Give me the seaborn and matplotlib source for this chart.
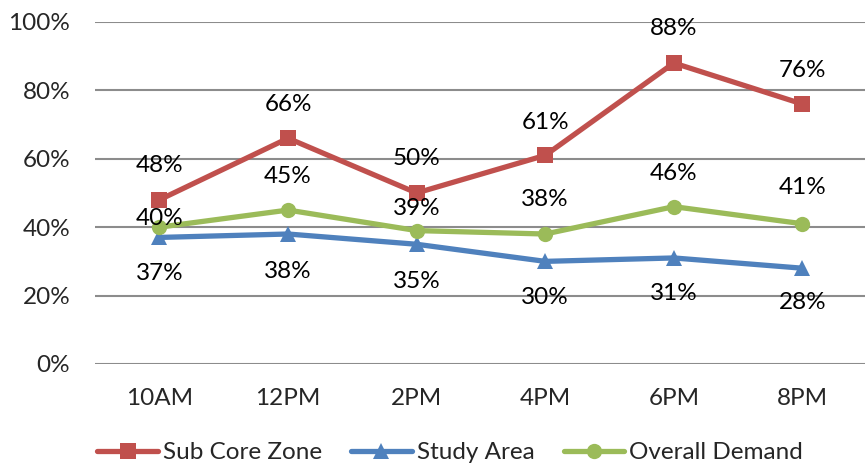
import matplotlib
matplotlib.use("Agg")
import matplotlib.pyplot as plt
import seaborn as sns
import pandas as pd

times = ["10AM", "12PM", "2PM", "4PM", "6PM", "8PM"]
sub_core_zone = [48, 66, 50, 61, 88, 76]
study_area = [37, 38, 35, 30, 31, 28]
overall_demand = [40, 45, 39, 38, 46, 41]
y_ticks = [0, 20, 40, 60, 80, 100]

series_names = ["Sub Core Zone", "Study Area", "Overall Demand"]
series_values = [sub_core_zone, study_area, overall_demand]
colors = ["#C0504D", "#4F81BD", "#9BBB59"]
markers = ["s", "^", "o"]
# value-label offsets in points, per point (+ above, - below)
label_offsets = [
    [24.5, 24.5, 24.5, 23.5, 24.5, 24.5],
    [-26, -27, -26.5, -26, -25.5, -24.5],
    [6.5, 24.5, 16, 25, 24, 26],
]

rows = []
for name, vals in zip(series_names, series_values):
    for i, (t, v) in enumerate(zip(times, vals)):
        rows.append({"time": t, "pos": i, "series": name, "value": v})
df = pd.DataFrame(rows)

sns.set_style("white")
plt.rcParams["font.family"] = ["Lato", "DejaVu Sans"]
FS = 17.5

fig = plt.figure(figsize=(8.65, 4.67), dpi=100)
ax = fig.add_axes([0.110, 0.2206, 0.892, 0.7324])

sns.lineplot(
    data=df, x="pos", y="value", hue="series", style="series",
    hue_order=series_names, style_order=series_names,
    palette=dict(zip(series_names, colors)),
    markers=dict(zip(series_names, markers)),
    dashes=False, linewidth=3.8, markersize=11, markeredgewidth=0,
    ax=ax, legend=True,
)

for vals, offs in zip(series_values, label_offsets):
    for i, (v, off) in enumerate(zip(vals, offs)):
        ax.annotate(f"{v}%", (i, v), xytext=(0, off), textcoords="offset points",
                    ha="center", va="center", fontsize=FS, color="#000000")

ax.set_xlim(-0.5, len(times) - 0.5)
ax.set_ylim(0, 100)
ax.set_yticks(y_ticks)
ax.set_yticklabels([f"{t}%" for t in y_ticks], fontsize=FS)
ax.set_xticks(range(len(times)))
ax.set_xticklabels(times, fontsize=FS)
ax.tick_params(axis="x", length=0, pad=17)
ax.tick_params(axis="y", length=0, pad=18)
ax.set_xlabel("")
ax.set_ylabel("")
ax.yaxis.grid(True, color="#8C8C8C", linewidth=1.5)
ax.set_axisbelow(True)
for s in ax.spines.values():
    s.set_visible(False)

handles, labels = ax.get_legend_handles_labels()
ax.legend(handles, labels, loc="center", bbox_to_anchor=(0.46, -0.26),
          ncol=3, frameon=False, fontsize=FS, handlelength=2.5,
          handletextpad=0.2, columnspacing=1.2, borderaxespad=0)

fig.savefig("out.png", dpi=100)
